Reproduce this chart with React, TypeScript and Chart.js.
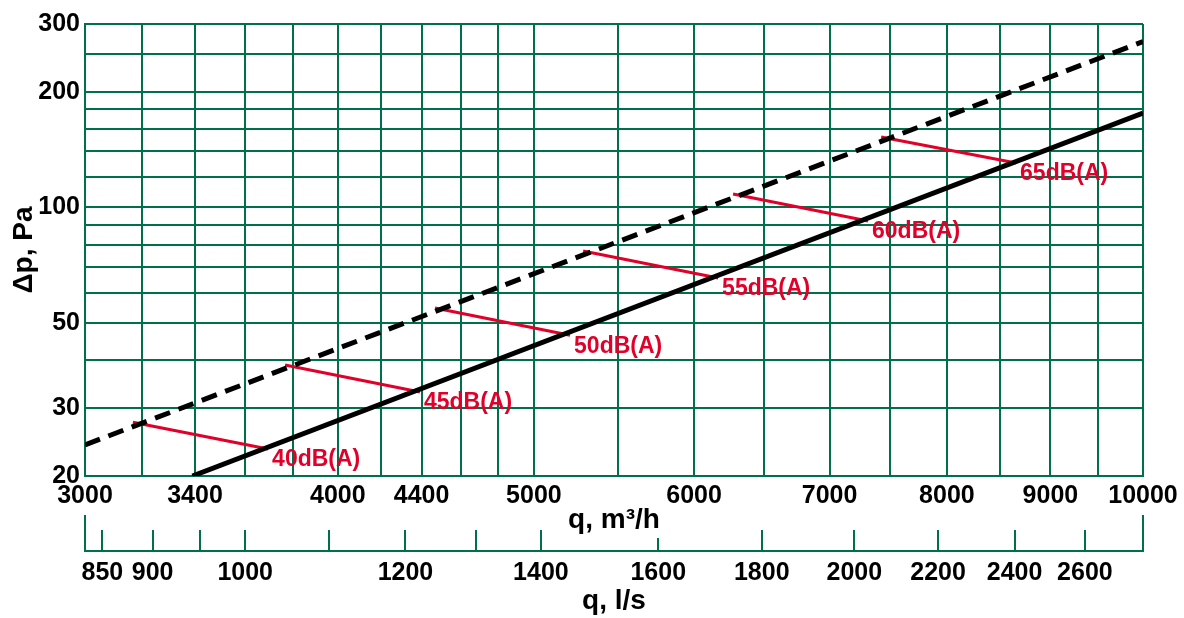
import React, { useEffect, useRef } from 'react';
import { Chart, registerables } from 'chart.js';

Chart.register(...registerables);

const GREEN = '#00704a';
const RED = '#e0002a';
const FONT = '"Liberation Sans", Arial, Helvetica, sans-serif';

// Flow axis (m³/h): grid lines and labelled values
const flowGridM3h = [3000, 3200, 3400, 3600, 3800, 4000, 4200, 4400, 4600, 4800, 5000, 5500, 6000, 6500, 7000, 7500, 8000, 8500, 9000, 9500, 10000];
const flowLabelsM3h = [3000, 3400, 4000, 4400, 5000, 6000, 7000, 8000, 9000, 10000];

// Pressure axis (Pa): grid lines and labelled values
const pressureGrid = [20, 30, 40, 50, 60, 70, 80, 90, 100, 120, 140, 160, 180, 200, 250, 300];
const pressureLabels = [20, 30, 50, 100, 200, 300];

// Secondary flow axis (l/s)
const M3H_TO_LPS = 1 / 3.6;
const flowTicksLps = [850, 900, 950, 1000, 1100, 1200, 1300, 1400, 1600, 1800, 2000, 2200, 2400, 2600];
const flowLabelsLps = [850, 900, 1000, 1200, 1400, 1600, 1800, 2000, 2200, 2400, 2600];

// Characteristic curves
const solidQ = [3390, 10000];
const solidP = [20, 176];
const dashedQ = [3000, 10000];
const dashedP = [24.1, 270];

// Sound level lines
const noiseLabels = ['40dB(A)', '45dB(A)', '50dB(A)', '55dB(A)', '60dB(A)', '65dB(A)'];
const noiseStartQ = [3168, 3767, 4468, 5288, 6272, 7423];
const noiseStartP = [27.6, 38.9, 54.7, 77.0, 108.4, 152.4];
const noiseEndQ = [3695, 4392, 5210, 6166, 7313, 8655];
const noiseEndP = [23.5, 33.1, 46.5, 65.5, 92.2, 130.5];

const toPoints = (xs: number[], ys: number[]) => xs.map((x, i) => ({ x, y: ys[i] }));

const X2_TICK_LEN = 14;

const secondaryAxisPlugin = {
  id: 'secondaryAxis',
  afterDraw(chart: any) {
    const s = chart.scales.x2;
    if (!s) return;
    const ctx = chart.ctx;
    const lineY = s.top + X2_TICK_LEN;
    ctx.save();
    ctx.strokeStyle = GREEN;
    ctx.lineWidth = 2;
    ctx.beginPath();
    ctx.moveTo(s.left - 1, lineY);
    ctx.lineTo(s.right + 1, lineY);
    ctx.stroke();
    ctx.beginPath();
    flowTicksLps.forEach((v) => {
      const px = Math.round(s.getPixelForValue(v));
      const len = v === 1600 ? 13 : 21;
      ctx.moveTo(px, lineY - len);
      ctx.lineTo(px, lineY);
    });
    ctx.moveTo(s.left, lineY - 36);
    ctx.lineTo(s.left, lineY);
    ctx.moveTo(s.right, lineY - 36);
    ctx.lineTo(s.right, lineY);
    ctx.stroke();
    ctx.restore();
  },
};

const noiseLabelPlugin = {
  id: 'noiseLabels',
  afterDatasetsDraw(chart: any) {
    const xs = chart.scales.x;
    const ys = chart.scales.y;
    const ctx = chart.ctx;
    ctx.save();
    ctx.fillStyle = RED;
    ctx.font = `bold 23px ${FONT}`;
    ctx.textAlign = 'left';
    ctx.textBaseline = 'middle';
    noiseLabels.forEach((label, i) => {
      const px = xs.getPixelForValue(noiseEndQ[i]);
      const py = ys.getPixelForValue(noiseEndP[i]);
      ctx.fillText(label, px + 4, py + 11);
    });
    ctx.restore();
  },
};

export default function App() {
  const canvasRef = useRef<HTMLCanvasElement | null>(null);

  useEffect(() => {
    document.body.style.margin = '0';
    document.body.style.overflow = 'hidden';
    const canvas = canvasRef.current;
    if (!canvas) return;
    Chart.defaults.font.family = FONT;

    const tickFont = { size: 25, weight: 'bold' };
    const titleFont = { size: 28, weight: 'bold' };

    const noiseDatasets = noiseLabels.map((label, i) => ({
      label,
      data: [
        { x: noiseStartQ[i], y: noiseStartP[i] },
        { x: noiseEndQ[i], y: noiseEndP[i] },
      ],
      showLine: true,
      borderColor: RED,
      borderWidth: 3,
      pointRadius: 0,
      fill: false,
    }));

    const chart = new Chart(canvas, {
      type: 'scatter',
      data: {
        datasets: [
          {
            label: 'dashed',
            data: toPoints(dashedQ, dashedP),
            showLine: true,
            borderColor: '#000',
            borderWidth: 5,
            borderDash: [16, 9],
            pointRadius: 0,
            fill: false,
          },
          {
            label: 'solid',
            data: toPoints(solidQ, solidP),
            showLine: true,
            borderColor: '#000',
            borderWidth: 5,
            pointRadius: 0,
            fill: false,
          },
          ...noiseDatasets,
        ],
      },
      options: {
        responsive: false,
        animation: false,
        devicePixelRatio: 1,
        layout: { padding: { top: 24, right: 41, left: 0, bottom: 0 } },
        plugins: {
          legend: { display: false },
          tooltip: { enabled: false },
        },
        scales: {
          x: {
            type: 'logarithmic',
            position: 'bottom',
            min: 3000,
            max: 10000,
            weight: 0,
            afterBuildTicks: (s: any) => {
              s.ticks = flowGridM3h.map((v) => ({ value: v }));
            },
            afterFit: (s: any) => {
              s.height = 61;
            },
            ticks: {
              autoSkip: false,
              maxRotation: 0,
              minRotation: 0,
              padding: 5,
              color: '#000',
              font: tickFont,
              callback: (v: any) => (flowLabelsM3h.includes(Number(v)) ? String(v) : ''),
            },
            grid: { color: GREEN, lineWidth: 2, drawTicks: false },
            border: { color: GREEN, width: 2 },
            title: {
              display: true,
              text: 'q, m³/h',
              color: '#000',
              font: titleFont,
              padding: { top: 0, bottom: 0 },
            },
          },
          x2: {
            type: 'logarithmic',
            axis: 'x',
            position: 'bottom',
            min: 3000 * M3H_TO_LPS,
            max: 10000 * M3H_TO_LPS,
            weight: 1,
            afterBuildTicks: (s: any) => {
              s.ticks = flowTicksLps.map((v) => ({ value: v }));
            },
            afterFit: (s: any) => {
              s.height = 81;
            },
            ticks: {
              autoSkip: false,
              maxRotation: 0,
              minRotation: 0,
              padding: 7,
              color: '#000',
              font: tickFont,
              callback: (v: any) => (flowLabelsLps.includes(Number(v)) ? String(v) : ''),
            },
            grid: {
              drawOnChartArea: false,
              drawTicks: true,
              tickLength: X2_TICK_LEN,
              color: 'rgba(0,0,0,0)',
            },
            border: { display: false },
            title: {
              display: true,
              text: 'q, l/s',
              color: '#000',
              font: titleFont,
              padding: { top: 0, bottom: 0 },
            },
          },
          y: {
            type: 'logarithmic',
            position: 'left',
            min: 20,
            max: 300,
            afterBuildTicks: (s: any) => {
              s.ticks = pressureGrid.map((v) => ({ value: v }));
            },
            afterFit: (s: any) => {
              s.width = 85;
            },
            ticks: {
              autoSkip: false,
              padding: 5,
              color: '#000',
              font: tickFont,
              callback: (v: any) => (pressureLabels.includes(Number(v)) ? String(v) : ''),
            },
            grid: { color: GREEN, lineWidth: 2, drawTicks: false },
            border: { color: GREEN, width: 2 },
            title: {
              display: true,
              text: 'Δp, Pa',
              color: '#000',
              font: titleFont,
              padding: { top: 7, bottom: 0 },
            },
          },
        },
      } as any,
      plugins: [secondaryAxisPlugin, noiseLabelPlugin],
    });

    return () => {
      chart.destroy();
    };
  }, []);

  return (
    <div style={{ width: 1184, height: 618, background: '#fff' }}>
      <canvas ref={canvasRef} width={1184} height={618} style={{ display: 'block' }} />
    </div>
  );
}
